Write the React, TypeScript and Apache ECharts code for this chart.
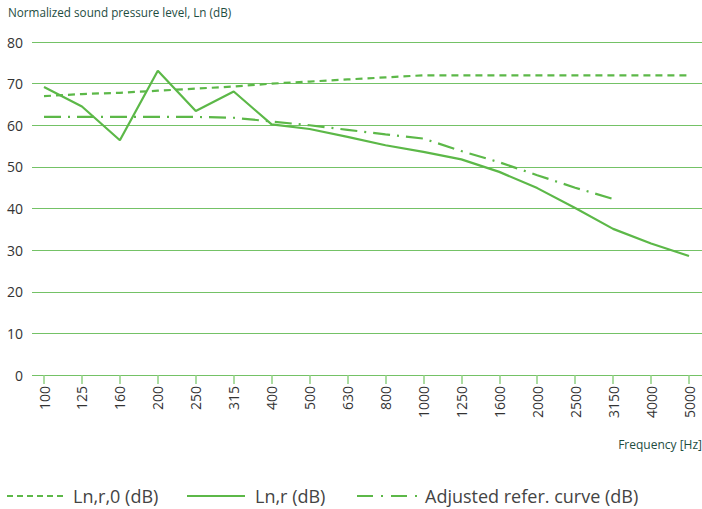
import React, { useEffect, useRef } from "react";
import * as echarts from "echarts";

const categories = ["100", "125", "160", "200", "250", "315", "400", "500", "630", "800", "1000", "1250", "1600", "2000", "2500", "3150", "4000", "5000"];
const lnr0 = [67, 67.5, 67.8, 68.3, 68.8, 69.3, 70, 70.5, 71, 71.5, 72, 72, 72, 72, 72, 72, 72, 72];
const lnr = [69.2, 64.5, 56.4, 73.1, 63.4, 68.1, 60.2, 59.1, 57.2, 55.2, 53.6, 51.8, 48.8, 44.9, 40.1, 35.1, 31.6, 28.6];
const adjusted = [62, 62, 62, 62, 62, 61.8, 60.9, 60, 58.9, 57.8, 56.8, 53.8, 51.1, 48, 45, 42.3, null, null];
const seriesNames = ["Ln,r,0 (dB)", "Ln,r (dB)", "Adjusted refer. curve (dB)"];
const yTitle = "Normalized sound pressure level, Ln (dB)";
const xTitle = "Frequency [Hz]";

const LINE = "#5cb848";
const GRID = "#74c266";
const FONT = "'Open Sans', sans-serif";

export default function App() {
  const ref = useRef<HTMLDivElement>(null);
  useEffect(() => {
    if (!ref.current) return;
    const chart = echarts.init(ref.current, null, { renderer: "svg" });
    const legendY = 496;
    chart.setOption({
      animation: false,
      textStyle: { fontFamily: FONT },
      grid: [
        { left: 32, right: 0, top: 42, bottom: 134 },
        { left: 44, right: 13, top: 42, bottom: 134 },
      ],
      xAxis: [
        { type: "value", gridIndex: 0, show: false, min: 0, max: 1 },
        {
          type: "category",
          gridIndex: 1,
          data: categories,
          boundaryGap: false,
          axisLine: { show: false },
          axisTick: { show: true, length: 9, alignWithLabel: true, lineStyle: { color: "#8fd182", width: 1.5 } },
          axisLabel: { rotate: 90, margin: 11, color: "#333", fontSize: 14, fontFamily: FONT, interval: 0 },
          splitLine: { show: false },
        },
      ],
      yAxis: [
        {
          type: "value",
          gridIndex: 0,
          min: 0,
          max: 80,
          interval: 10,
          axisLine: { show: false },
          axisTick: { show: false },
          axisLabel: { color: "#333", fontSize: 14, margin: 9, fontFamily: FONT },
          splitLine: { lineStyle: { color: GRID, width: 1 } },
        },
        { type: "value", gridIndex: 1, min: 0, max: 80, interval: 10, show: false, splitLine: { show: false } },
      ],
      series: [
        {
          name: seriesNames[0],
          type: "line",
          xAxisIndex: 1,
          yAxisIndex: 1,
          data: lnr0,
          symbol: "none",
          lineStyle: { color: LINE, width: 2.2, type: [7, 5] },
        },
        {
          name: seriesNames[1],
          type: "line",
          xAxisIndex: 1,
          yAxisIndex: 1,
          data: lnr,
          symbol: "none",
          lineStyle: { color: LINE, width: 2.2 },
        },
        {
          name: seriesNames[2],
          type: "line",
          xAxisIndex: 1,
          yAxisIndex: 1,
          data: adjusted,
          symbol: "none",
          lineStyle: { color: LINE, width: 2.2, type: [17, 7, 2, 7] },
        },
      ],
      graphic: [
        { type: "text", left: 8, top: 6, style: { text: yTitle, fill: "#1e4d3f", font: `11.7px ${FONT}` } },
        { type: "text", right: 0, top: 438, style: { text: xTitle, fill: "#1e4d3f", font: `12px ${FONT}` } },
        { type: "line", shape: { x1: 7, y1: legendY, x2: 63, y2: legendY }, style: { stroke: LINE, lineWidth: 2, lineDash: [6, 4] } },
        { type: "text", x: 73, y: legendY, style: { text: seriesNames[0], fill: "#444", font: `18px ${FONT}`, verticalAlign: "middle" } },
        { type: "line", shape: { x1: 187, y1: legendY, x2: 245, y2: legendY }, style: { stroke: LINE, lineWidth: 2 } },
        { type: "text", x: 255, y: legendY, style: { text: seriesNames[1], fill: "#444", font: `18px ${FONT}`, verticalAlign: "middle" } },
        { type: "line", shape: { x1: 357, y1: legendY, x2: 417, y2: legendY }, style: { stroke: LINE, lineWidth: 2, lineDash: [16, 8, 2, 8] } },
        { type: "text", x: 425, y: legendY, style: { text: seriesNames[2], fill: "#444", font: `18px ${FONT}`, verticalAlign: "middle" } },
      ],
    });
    return () => chart.dispose();
  }, []);
  return <div ref={ref} style={{ width: 702, height: 509, position: "absolute", left: 0, top: 0 }} />;
}
